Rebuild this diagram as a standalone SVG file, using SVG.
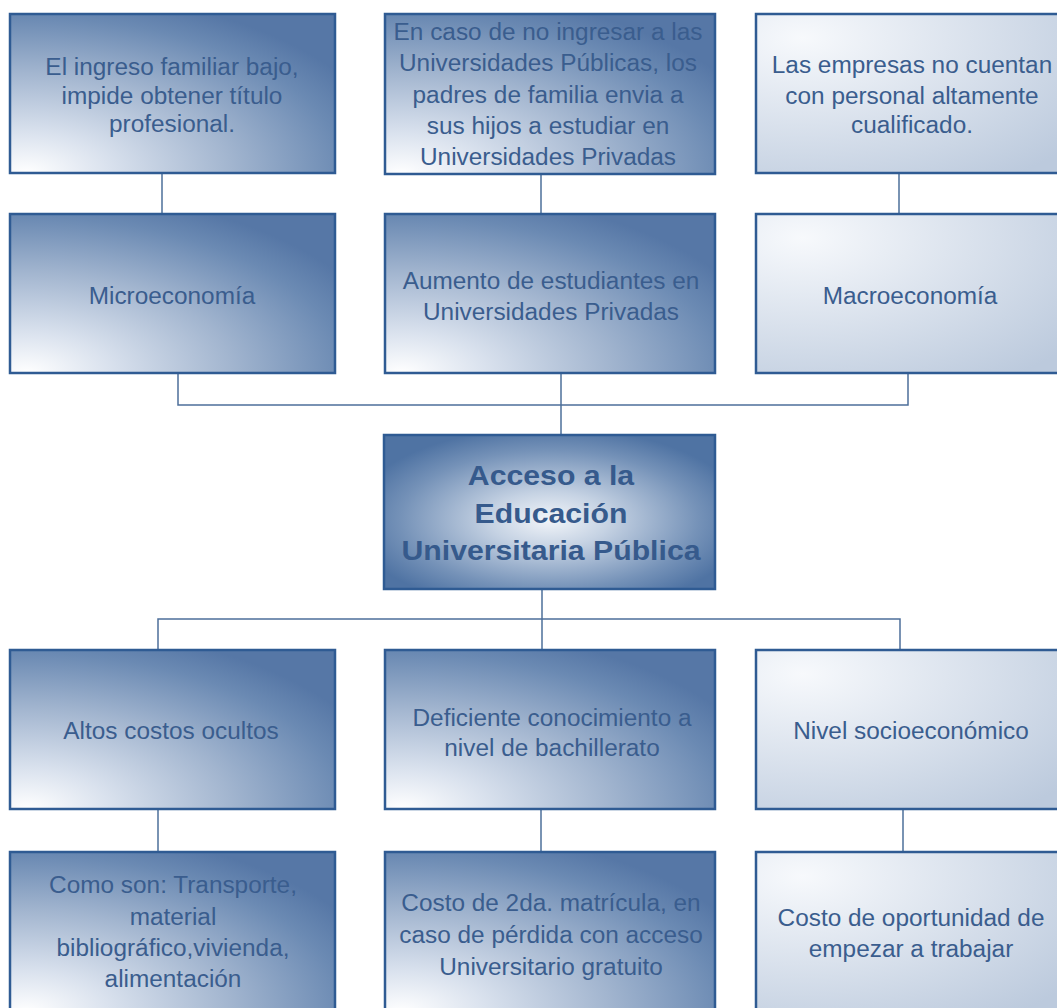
<svg xmlns="http://www.w3.org/2000/svg" width="1057" height="1008" viewBox="0 0 1057 1008">
<style>
.box{stroke:#2f5b93;stroke-width:2.5}
.dk{fill:url(#gL)}
.lt{fill:url(#gR)}
.ct{fill:url(#gC)}
.t{font-family:"Liberation Sans",Arial,sans-serif;font-size:23px;fill:#3a5d8e;text-anchor:middle}
.tb{font-family:"Liberation Sans",Arial,sans-serif;font-size:27px;font-weight:bold;fill:#365a8c;text-anchor:middle}
.c{stroke:#4d6f9a;stroke-width:1.5;fill:none}
</style>
<defs>
<radialGradient id="gL" cx="0.05" cy="1" r="1.15" fx="0.05" fy="1">
<stop offset="0" stop-color="#ffffff"/>
<stop offset="0.22" stop-color="#dae2ee"/>
<stop offset="0.55" stop-color="#a2b5cf"/>
<stop offset="0.85" stop-color="#6b8ab3"/>
<stop offset="1" stop-color="#5677a6"/>
</radialGradient>
<radialGradient id="gC" cx="0.5" cy="0.55" r="0.6">
<stop offset="0" stop-color="#f2f5f9"/>
<stop offset="0.3" stop-color="#c5d2e3"/>
<stop offset="0.75" stop-color="#7592b8"/>
<stop offset="1" stop-color="#4f73a3"/>
</radialGradient>
<radialGradient id="gR" cx="0.15" cy="0.15" r="1.1">
<stop offset="0" stop-color="#f7f9fc"/>
<stop offset="1" stop-color="#bccadd"/>
</radialGradient>
</defs>
<g id="connectors">
<line class="c" x1="162" y1="173" x2="162" y2="214"/>
<line class="c" x1="541" y1="174" x2="541" y2="214"/>
<line class="c" x1="899" y1="173" x2="899" y2="214"/>
<polyline class="c" points="178,373 178,405 908,405 908,373"/>
<line class="c" x1="561" y1="373" x2="561" y2="435"/>
<line class="c" x1="542" y1="589" x2="542" y2="619"/>
<polyline class="c" points="158,650 158,619 900,619 900,650"/>
<line class="c" x1="542" y1="619" x2="542" y2="650"/>
<line class="c" x1="158" y1="809" x2="158" y2="852"/>
<line class="c" x1="541" y1="809" x2="541" y2="852"/>
<line class="c" x1="903" y1="809" x2="903" y2="852"/>
</g>
<g id="n1">
<rect class="box dk" x="10" y="14" width="325" height="159"/>
<text class="t" transform="translate(172 0) scale(1.06 1)"><tspan x="0" y="75">El ingreso familiar bajo,</tspan><tspan x="0" y="104">impide obtener título</tspan><tspan x="0" y="132">profesional.</tspan></text>
</g>
<g id="n2">
<rect class="box dk" x="385" y="14" width="330" height="160"/>
<text class="t" transform="translate(548 0) scale(1.06 1)"><tspan x="0" y="40">En caso de no ingresar a las</tspan><tspan x="0" y="71">Universidades Públicas, los</tspan><tspan x="0" y="103">padres de familia envia a</tspan><tspan x="0" y="134">sus hijos a estudiar en</tspan><tspan x="0" y="165">Universidades Privadas</tspan></text>
</g>
<g id="n3">
<rect class="box lt" x="756" y="14" width="310" height="159"/>
<text class="t" transform="translate(912 0) scale(1.06 1)"><tspan x="0" y="73">Las empresas no cuentan</tspan><tspan x="0" y="104">con personal altamente</tspan><tspan x="0" y="133">cualificado.</tspan></text>
</g>
<g id="n4">
<rect class="box dk" x="10" y="214" width="325" height="159"/>
<text class="t" transform="translate(172 0) scale(1.06 1)"><tspan x="0" y="304">Microeconomía</tspan></text>
</g>
<g id="n5">
<rect class="box dk" x="385" y="214" width="330" height="159"/>
<text class="t" transform="translate(551 0) scale(1.06 1)"><tspan x="0" y="289">Aumento de estudiantes en</tspan><tspan x="0" y="320">Universidades Privadas</tspan></text>
</g>
<g id="n6">
<rect class="box lt" x="756" y="214" width="310" height="159"/>
<text class="t" transform="translate(910 0) scale(1.06 1)"><tspan x="0" y="304">Macroeconomía</tspan></text>
</g>
<g id="n7">
<rect class="box ct" x="384" y="435" width="331" height="154"/>
<text class="tb" transform="translate(551 0) scale(1.12 1)"><tspan x="0" y="485">Acceso a la</tspan><tspan x="0" y="523">Educación</tspan><tspan x="0" y="560">Universitaria Pública</tspan></text>
</g>
<g id="n8">
<rect class="box dk" x="10" y="650" width="325" height="159"/>
<text class="t" transform="translate(171 0) scale(1.06 1)"><tspan x="0" y="739">Altos costos ocultos</tspan></text>
</g>
<g id="n9">
<rect class="box dk" x="385" y="650" width="330" height="159"/>
<text class="t" transform="translate(552 0) scale(1.06 1)"><tspan x="0" y="726">Deficiente conocimiento a</tspan><tspan x="0" y="756">nivel de bachillerato</tspan></text>
</g>
<g id="n10">
<rect class="box lt" x="756" y="650" width="310" height="159"/>
<text class="t" transform="translate(911 0) scale(1.06 1)"><tspan x="0" y="739">Nivel socioeconómico</tspan></text>
</g>
<g id="n11">
<rect class="box dk" x="10" y="852" width="325" height="160"/>
<text class="t" transform="translate(173 0) scale(1.06 1)"><tspan x="0" y="893">Como son: Transporte,</tspan><tspan x="0" y="925">material</tspan><tspan x="0" y="956">bibliográfico,vivienda,</tspan><tspan x="0" y="987">alimentación</tspan></text>
</g>
<g id="n12">
<rect class="box dk" x="385" y="852" width="330" height="160"/>
<text class="t" transform="translate(551 0) scale(1.06 1)"><tspan x="0" y="911">Costo de 2da. matrícula, en</tspan><tspan x="0" y="943">caso de pérdida con acceso</tspan><tspan x="0" y="975">Universitario gratuito</tspan></text>
</g>
<g id="n13">
<rect class="box lt" x="756" y="852" width="310" height="160"/>
<text class="t" transform="translate(911 0) scale(1.06 1)"><tspan x="0" y="926">Costo de oportunidad de</tspan><tspan x="0" y="957">empezar a trabajar</tspan></text>
</g>
</svg>
